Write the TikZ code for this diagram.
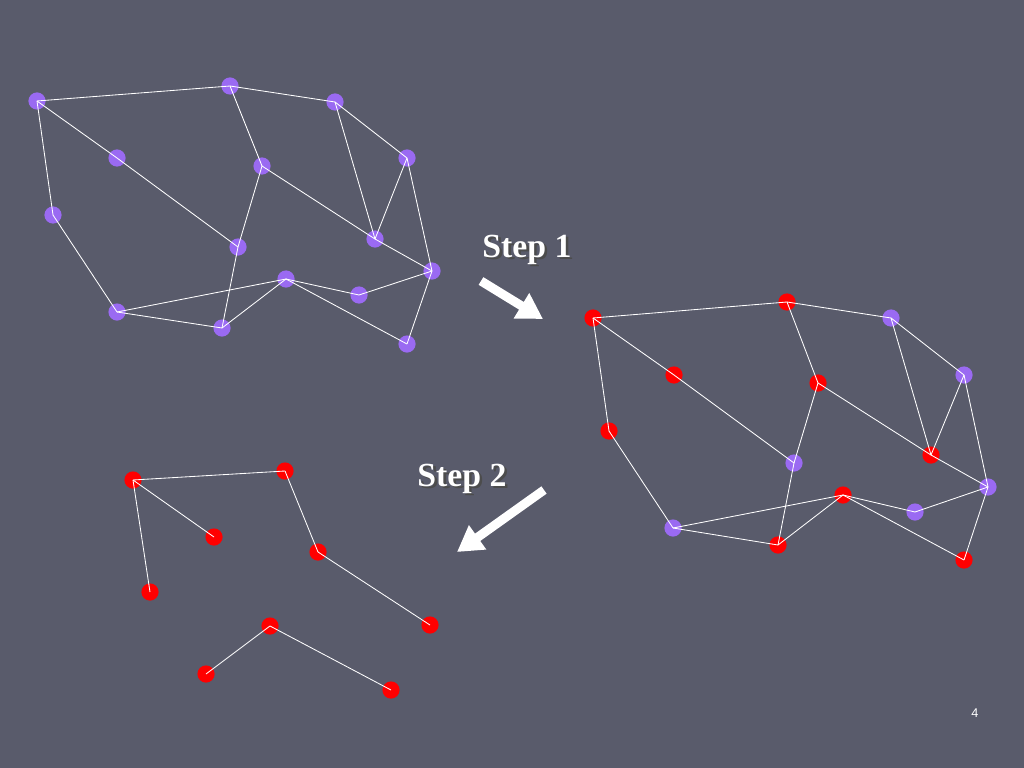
\documentclass[tikz,border=0pt]{standalone}
\usepackage{fontspec}
\setmainfont{Liberation Serif}
\setsansfont{Liberation Sans}
\usetikzlibrary{arrows.meta}
\definecolor{slidebg}{HTML}{595B6B}
\definecolor{vtxpurple}{HTML}{9A6AF2}
\definecolor{vtxred}{HTML}{FF0000}
\newcommand{\shadowed}[1]{\makebox[0pt][l]{\hspace{1.8pt}\raisebox{-1.8pt}{\color{black!70}#1}}#1}

\begin{document}
\begin{tikzpicture}[x=0.025cm,y=-0.025cm,
  vtx/.style={circle,inner sep=0pt,minimum size=0.43cm},
  edge/.style={white,line width=0.6pt},
  bigarrow/.style={white,line width=6.4pt,-{Triangle[length=18pt,width=20pt]}},
  steplabel/.style={font=\bfseries\fontsize{24}{28}\selectfont,text=white}]
  \fill[slidebg] (0,0) rectangle (1024,768);
  % graph before step 1
  \foreach \n/\xx/\yy in {a/37/101,b/230/86,c/335/102,d/117/158,e/262/166,f/407/158,g/53/215,h/238/247,
    i/375/239,j/432/271,k/286/279,l/359/295,m/117/312,n/222/328,o/407/344}{
    \node[vtx,fill=vtxpurple] (p\n) at (\xx,\yy) {};
  }
  \foreach \u/\v in {a/b,b/c,a/g,a/d,d/h,b/e,e/i,i/j,c/i,c/f,f/i,f/j,g/m,m/k,m/n,e/h,h/n,n/k,k/l,l/j,k/o,j/o}{
    \draw[edge] (p\u.center) -- (p\v.center);
  }
  % after step 1
  \foreach \n/\xx/\yy/\c in {a/593/318/vtxred,b/787/302/vtxred,c/891/318/vtxpurple,d/674/375/vtxred,
    e/818/383/vtxred,f/964/375/vtxpurple,g/609/431/vtxred,h/794/463/vtxpurple,i/931/455/vtxred,
    j/988/487/vtxpurple,k/843/495/vtxred,l/915/512/vtxpurple,m/673/528/vtxpurple,n/778/545/vtxred,
    o/964/560/vtxred}{
    \node[vtx,fill=\c] (q\n) at (\xx,\yy) {};
  }
  \foreach \u/\v in {a/b,b/c,a/g,a/d,d/h,b/e,e/i,i/j,c/i,c/f,f/i,f/j,g/m,m/k,m/n,e/h,h/n,n/k,k/l,l/j,k/o,j/o}{
    \draw[edge] (q\u.center) -- (q\v.center);
  }
  % after step 2
  \foreach \n/\xx/\yy in {a/133/480,b/285/471,d/214/537,g/150/592,e/318/552,i/430/625,k/270/626,
    n/206/674,o/391/690}{
    \node[vtx,fill=vtxred] (r\n) at (\xx,\yy) {};
  }
  \foreach \u/\v in {a/b,a/d,a/g,b/e,e/i,k/n,k/o}{
    \draw[edge] (r\u.center) -- (r\v.center);
  }
  % steps
  \coordinate (s1tail) at (481,281);
  \coordinate (s1tip) at (543,319);
  \coordinate (s2tail) at (544,490);
  \coordinate (s2tip) at (457,552);
  \draw[bigarrow] (s1tail) -- (s1tip);
  \draw[bigarrow] (s2tail) -- (s2tip);
  \node[steplabel] (step1) at (527,251) {\shadowed{Step 1}};
  \node[steplabel] (step2) at (462,480) {\shadowed{Step 2}};
  \node[font=\sffamily\fontsize{9}{11}\selectfont,text=white] (pgno) at (975,713) {4};
\end{tikzpicture}
\end{document}
